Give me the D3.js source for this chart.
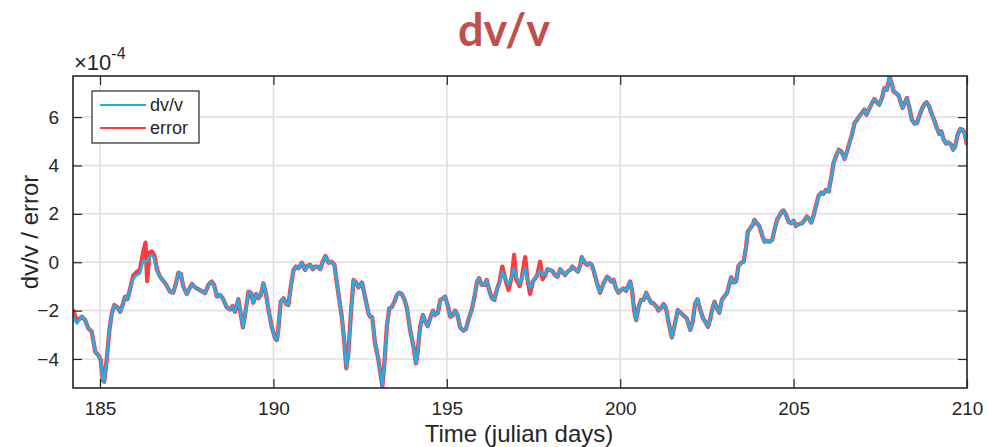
<!DOCTYPE html>
<html>
<head>
<meta charset="utf-8">
<script src="https://cdn.jsdelivr.net/npm/d3@7"></script>
<style>
  html, body { margin: 0; padding: 0; background: #fff; }
  svg { display: block; }
  text { font-family: "Liberation Sans", Arial, Helvetica, sans-serif; }
</style>
</head>
<body>
<svg id="chart" width="988" height="447"></svg>
<script>
// Julian day of each sample
const days = [
  184.22,184.33,184.47,184.57,184.66,184.76,184.86,184.95,185.02,185.08,185.12,185.19,185.27,185.34,185.41,185.50,185.58,185.65,185.72,185.79,
  185.87,185.96,186.06,186.15,186.25,186.31,186.36,186.42,186.49,186.56,186.64,186.73,186.88,187.02,187.11,187.19,187.26,187.33,187.40,187.50,
  187.58,187.65,187.74,187.88,188.03,188.12,188.22,188.29,188.37,188.46,188.54,188.65,188.75,188.82,188.89,188.99,189.06,189.12,189.18,189.28,
  189.35,189.42,189.50,189.57,189.64,189.71,189.78,189.85,189.95,190.05,190.10,190.14,190.21,190.29,190.37,190.43,190.50,190.58,190.65,190.72,
  190.82,190.91,190.98,191.06,191.14,191.20,191.27,191.35,191.42,191.50,191.59,191.68,191.76,191.83,191.90,191.97,192.04,192.10,192.16,192.24,
  192.31,192.38,192.45,192.55,192.64,192.74,192.79,192.85,192.93,193.03,193.10,193.14,193.20,193.27,193.34,193.41,193.49,193.56,193.63,193.70,
  193.78,193.85,193.94,194.04,194.11,194.16,194.23,194.31,194.38,194.45,194.52,194.60,194.66,194.74,194.81,194.89,194.95,195.03,195.10,195.16,
  195.24,195.31,195.38,195.48,195.55,195.62,195.72,195.80,195.87,195.93,196.01,196.09,196.15,196.22,196.30,196.37,196.44,196.52,196.60,196.68,
  196.78,196.88,196.94,197.00,197.10,197.16,197.26,197.32,197.40,197.48,197.55,197.61,197.69,197.76,197.84,197.90,197.98,198.06,198.12,198.19,
  198.27,198.35,198.41,198.48,198.56,198.62,198.70,198.78,198.85,198.89,198.96,199.04,199.11,199.18,199.25,199.33,199.42,199.52,199.62,199.68,
  199.74,199.81,199.88,199.95,200.03,200.09,200.17,200.24,200.29,200.34,200.40,200.46,200.53,200.60,200.67,200.75,200.82,200.89,200.96,201.06,
  201.10,201.18,201.25,201.32,201.39,201.49,201.57,201.66,201.76,201.86,201.92,202.02,202.09,202.16,202.23,202.31,202.39,202.45,202.53,202.60,
  202.66,202.72,202.79,202.86,202.93,203.01,203.08,203.14,203.20,203.27,203.34,203.41,203.49,203.56,203.63,203.68,203.75,203.82,203.87,203.94,
  204.01,204.09,204.16,204.23,204.31,204.38,204.45,204.52,204.59,204.66,204.71,204.78,204.85,204.93,205.00,205.07,205.14,205.24,205.32,205.38,
  205.43,205.51,205.58,205.64,205.72,205.80,205.86,205.93,206.01,206.09,206.15,206.22,206.30,206.38,206.47,206.54,206.61,206.68,206.76,206.83,
  206.89,206.97,207.04,207.10,207.18,207.26,207.33,207.40,207.47,207.55,207.61,207.69,207.77,207.84,207.88,207.95,208.03,208.08,208.14,208.20,
  208.27,208.34,208.41,208.49,208.56,208.62,208.70,208.78,208.84,208.91,208.99,209.07,209.13,209.20,209.26,209.33,209.40,209.47,209.54,209.60,
  209.66,209.73,209.81,209.87,209.93,209.98,210.00
];

// relative velocity change, in units of 1e-4
const dvv = [
  -2.18,-2.53,-2.25,-2.39,-2.73,-2.87,-3.70,-3.84,-4.05,-4.87,-4.94,-4.05,-2.80,-2.11,-1.77,-1.86,-2.05,-1.77,-1.42,-1.53,
  -1.08,-0.66,-0.53,-0.46,0.10,0.04,0.06,0.21,0.30,0.17,-0.39,-0.60,-0.87,-1.22,-1.26,-0.87,-0.43,-0.48,-1.01,-1.31,
  -1.08,-0.90,-1.04,-1.15,-1.28,-0.94,-0.80,-0.94,-1.42,-1.35,-1.49,-1.86,-1.95,-1.81,-2.05,-1.53,-2.18,-2.69,-2.18,-1.22,
  -1.26,-1.67,-1.31,-1.49,-1.35,-0.87,-1.26,-1.90,-2.67,-3.15,-3.22,-2.80,-1.63,-1.49,-1.73,-1.77,-1.01,-0.32,-0.18,-0.25,
  -0.02,-0.32,-0.15,-0.11,-0.29,-0.18,-0.18,-0.29,0.02,0.26,-0.02,0.02,-0.11,-0.87,-1.56,-2.25,-3.22,-4.39,-3.77,-1.98,
  -0.73,-0.84,-1.04,-0.84,-1.42,-2.11,-2.25,-2.28,-3.35,-4.05,-4.74,-5.12,-4.18,-2.67,-1.90,-1.86,-1.63,-1.35,-1.26,-1.31,
  -1.56,-1.90,-2.80,-3.49,-4.18,-3.70,-2.67,-2.18,-2.46,-2.64,-2.32,-2.00,-2.18,-2.11,-1.56,-1.49,-1.42,-1.81,-2.25,-2.22,
  -2.00,-2.18,-2.69,-2.83,-2.77,-2.39,-1.95,-1.42,-0.80,-0.66,-0.94,-0.94,-0.73,-1.15,-1.49,-1.56,-1.15,-0.87,-0.39,-0.66,
  -0.94,-0.53,-0.25,-0.60,-0.87,-0.66,-0.25,-0.66,-1.08,-0.80,-0.66,-0.53,-0.32,-0.53,-0.53,-0.29,-0.32,-0.39,-0.53,-0.60,
  -0.29,-0.43,-0.53,-0.39,-0.32,-0.18,-0.29,-0.39,-0.11,0.21,0.02,-0.11,-0.04,-0.11,-0.43,-0.87,-1.26,-0.87,-0.60,-0.66,
  -0.80,-0.73,-1.08,-1.26,-1.15,-1.08,-1.18,-0.94,-0.80,-1.15,-1.98,-2.39,-1.84,-1.56,-1.56,-1.26,-1.49,-1.67,-1.70,-1.86,
  -2.00,-1.90,-1.73,-1.90,-2.46,-3.11,-2.60,-1.98,-2.11,-2.25,-2.32,-2.80,-2.46,-1.70,-1.53,-1.98,-2.32,-2.46,-2.67,-2.32,
  -1.90,-1.63,-1.90,-2.09,-1.56,-1.40,-1.28,-0.94,-0.62,-0.84,-0.80,-0.15,-0.02,0.02,0.65,1.27,1.41,1.54,1.75,1.61,
  1.50,1.13,0.85,0.89,0.85,0.92,1.34,1.75,1.92,2.10,2.14,1.96,1.68,1.61,1.71,1.50,1.57,1.61,1.75,1.89,
  1.82,1.64,1.96,2.30,2.75,2.88,2.83,2.99,2.92,3.54,4.10,4.37,4.65,4.58,4.27,4.58,4.93,5.27,5.76,5.89,
  6.03,6.17,6.31,6.10,6.34,6.58,6.75,6.61,6.51,6.79,7.20,7.13,7.66,7.34,7.06,7.00,6.89,6.65,6.38,6.58,
  6.79,6.38,5.89,5.73,5.76,6.03,6.34,6.55,6.61,6.44,6.10,5.82,5.55,5.31,5.41,5.06,4.90,4.95,4.86,4.65,
  4.79,5.27,5.51,5.48,5.34,4.99,4.85
];

// error estimate, in units of 1e-4
const errorVals = [
  -1.95,-2.45,-2.25,-2.39,-2.73,-2.87,-3.70,-3.84,-4.05,-4.87,-4.94,-4.05,-2.80,-2.11,-1.77,-1.86,-2.05,-1.77,-1.42,-1.53,
  -1.08,-0.55,-0.40,-0.32,0.45,0.81,-0.78,0.40,0.45,0.30,-0.30,-0.60,-0.87,-1.22,-1.26,-0.87,-0.43,-0.48,-1.01,-1.31,
  -1.08,-0.90,-1.04,-1.15,-1.28,-0.94,-0.80,-0.94,-1.42,-1.35,-1.49,-1.86,-1.95,-1.81,-2.05,-1.53,-2.18,-2.69,-2.18,-1.22,
  -1.26,-1.67,-1.31,-1.49,-1.35,-0.87,-1.26,-1.90,-2.67,-3.15,-3.22,-2.80,-1.63,-1.49,-1.73,-1.77,-1.01,-0.32,-0.18,-0.25,
  -0.02,-0.32,-0.15,-0.11,-0.29,-0.18,-0.18,-0.29,0.02,0.26,-0.02,0.02,-0.11,-0.87,-1.56,-2.25,-3.22,-4.39,-3.77,-1.98,
  -0.73,-0.84,-1.04,-0.84,-1.42,-2.11,-2.25,-2.28,-3.35,-4.05,-4.74,-5.12,-4.18,-2.67,-1.90,-1.86,-1.63,-1.35,-1.26,-1.31,
  -1.56,-1.90,-2.80,-3.49,-4.18,-3.70,-2.67,-2.18,-2.46,-2.64,-2.32,-2.00,-2.18,-2.11,-1.56,-1.49,-1.42,-1.81,-2.25,-2.22,
  -2.00,-2.18,-2.69,-2.83,-2.77,-2.39,-1.95,-1.42,-0.80,-0.66,-0.94,-0.94,-0.73,-1.15,-1.49,-1.56,-1.15,-0.80,-0.18,-0.66,
  -1.15,-0.53,0.30,-0.70,-0.98,-0.66,0.21,-0.66,-1.31,-0.80,-0.66,-0.53,0.02,-0.70,-0.53,-0.29,-0.32,-0.39,-0.53,-0.60,
  -0.29,-0.43,-0.53,-0.39,-0.32,-0.18,-0.29,-0.39,-0.11,0.21,0.02,-0.11,-0.04,-0.11,-0.43,-0.87,-1.26,-0.87,-0.60,-0.66,
  -0.80,-0.73,-1.08,-1.26,-1.15,-1.08,-1.18,-0.94,-0.80,-1.15,-1.98,-2.39,-1.84,-1.56,-1.56,-1.26,-1.49,-1.67,-1.70,-1.86,
  -2.00,-1.90,-1.73,-1.90,-2.46,-3.11,-2.60,-1.98,-2.11,-2.25,-2.32,-2.80,-2.46,-1.70,-1.53,-1.98,-2.32,-2.46,-2.67,-2.32,
  -1.90,-1.63,-1.90,-2.09,-1.56,-1.40,-1.28,-0.94,-0.62,-0.84,-0.80,-0.15,-0.02,0.02,0.65,1.27,1.41,1.54,1.75,1.61,
  1.50,1.13,0.85,0.89,0.85,0.92,1.34,1.75,1.92,2.10,2.14,1.96,1.68,1.61,1.71,1.50,1.57,1.61,1.75,1.89,
  1.82,1.64,1.96,2.30,2.75,2.88,2.83,2.99,2.92,3.54,4.10,4.37,4.65,4.58,4.27,4.58,4.93,5.27,5.76,5.89,
  6.03,6.17,6.31,6.10,6.34,6.58,6.75,6.61,6.51,6.79,7.20,7.13,7.66,7.34,7.06,7.00,6.89,6.65,6.38,6.58,
  6.79,6.38,5.89,5.73,5.76,6.03,6.34,6.55,6.61,6.44,6.10,5.82,5.55,5.31,5.41,5.06,4.90,4.95,4.86,4.65,
  4.79,5.27,5.51,5.48,5.34,4.99,4.85
];

const xTicks = [185, 190, 195, 200, 205, 210];
const yTicks = [-4, -2, 0, 2, 4, 6];
const xDomain = [184.22, 210];
const yDomain = [-5.2, 7.7];

const seriesNames = ["dv/v", "error"];
const seriesColors = ["#1db1ec", "#fd3c3c"];

const svg = d3.select("#chart");
const m = { left: 73, right: 967, top: 76, bottom: 388 };
const axisColor = "#262626";
const gridColor = "#dedede";

const x = d3.scaleLinear().domain(xDomain).range([m.left, m.right]);
const y = d3.scaleLinear().domain(yDomain).range([m.bottom, m.top]);

// title
svg.append("text")
  .attr("x", 504).attr("y", 46)
  .attr("text-anchor", "middle")
  .style("font-family", "Lato, 'Open Sans', sans-serif")
  .style("font-weight", "bold")
  .style("font-size", "45px")
  .attr("fill", "#c0504d")
  .text("dv/v");

// grid
const grid = svg.append("g");
grid.selectAll("line.gx").data(xTicks).enter().append("line")
  .attr("x1", d => x(d)).attr("x2", d => x(d))
  .attr("y1", m.top).attr("y2", m.bottom)
  .attr("stroke", gridColor).attr("stroke-width", 1.5);
grid.selectAll("line.gy").data(yTicks).enter().append("line")
  .attr("x1", m.left).attr("x2", m.right)
  .attr("y1", d => y(d)).attr("y2", d => y(d))
  .attr("stroke", gridColor).attr("stroke-width", 1.5);

// data lines
svg.append("clipPath").attr("id", "plotClip").append("rect")
  .attr("x", m.left).attr("y", m.top)
  .attr("width", m.right - m.left).attr("height", m.bottom - m.top);

const line = d3.line().x(d => x(d[0])).y(d => y(d[1]));
const dvvPts = days.map((d, i) => [d, dvv[i]]);
const errPts = days.map((d, i) => [d, errorVals[i]]);
const plot = svg.append("g").attr("clip-path", "url(#plotClip)");
plot.append("path").datum(errPts).attr("d", line)
  .attr("fill", "none").attr("stroke", seriesColors[1])
  .attr("stroke-width", 4.3).attr("stroke-linejoin", "round");
plot.append("path").datum(dvvPts).attr("d", line)
  .attr("fill", "none").attr("stroke", seriesColors[0])
  .attr("stroke-width", 2.6).attr("stroke-linejoin", "round");

// axes: inward ticks on all four sides
const tickLen = 9;
const axes = svg.append("g");
const bottomAxis = d3.axisBottom(x).tickValues(xTicks).tickSizeInner(-tickLen).tickSizeOuter(0).tickPadding(14);
const topAxis = d3.axisTop(x).tickValues(xTicks).tickSizeInner(-tickLen).tickSizeOuter(0).tickFormat("");
const leftAxis = d3.axisLeft(y).tickValues(yTicks).tickSizeInner(-tickLen).tickSizeOuter(0).tickPadding(14);
const rightAxis = d3.axisRight(y).tickValues(yTicks).tickSizeInner(-tickLen).tickSizeOuter(0).tickFormat("");

function styleAxis(g) {
  g.select(".domain").remove();
  g.selectAll(".tick line").attr("stroke", axisColor).attr("stroke-width", 1.2);
  g.selectAll(".tick text").attr("fill", axisColor)
    .style("font-family", "'Liberation Sans', Arial, sans-serif")
    .style("font-size", "19px");
}
axes.append("g").attr("transform", `translate(0,${m.bottom})`).call(bottomAxis).call(styleAxis);
axes.append("g").attr("transform", `translate(0,${m.top})`).call(topAxis).call(styleAxis);
axes.append("g").attr("transform", `translate(${m.left},0)`).call(leftAxis).call(styleAxis);
axes.append("g").attr("transform", `translate(${m.right},0)`).call(rightAxis).call(styleAxis);

// box
svg.append("rect")
  .attr("x", m.left).attr("y", m.top)
  .attr("width", m.right - m.left).attr("height", m.bottom - m.top)
  .attr("fill", "none").attr("stroke", axisColor).attr("stroke-width", 1.6);

// exponent label
const expo = svg.append("text").attr("x", 74).attr("y", 70)
  .attr("fill", axisColor).style("font-size", "22px");
expo.append("tspan").text("\u00d710");
expo.append("tspan").attr("dy", -11).style("font-size", "16px").text("-4");

// axis labels
svg.append("text")
  .attr("x", (m.left + m.right) / 2 - 1).attr("y", 442)
  .attr("text-anchor", "middle").attr("fill", axisColor)
  .style("font-size", "24px")
  .text("Time (julian days)");
svg.append("text")
  .attr("transform", `translate(38,${(m.top + m.bottom) / 2}) rotate(-90)`)
  .attr("text-anchor", "middle").attr("fill", axisColor)
  .style("font-size", "24px")
  .text("dv/v / error");

// legend
const lg = svg.append("g");
lg.append("rect").attr("x", 92).attr("y", 91).attr("width", 107).attr("height", 52)
  .attr("fill", "#fff").attr("stroke", axisColor).attr("stroke-width", 1.2);
seriesNames.forEach((name, i) => {
  const ly = 105 + i * 23;
  lg.append("line").attr("x1", 100).attr("x2", 146).attr("y1", ly).attr("y2", ly)
    .attr("stroke", seriesColors[i]).attr("stroke-width", 2);
  lg.append("text").attr("x", 150).attr("y", ly + 6)
    .attr("fill", axisColor).style("font-size", "18px").text(name);
});
</script>
</body>
</html>
